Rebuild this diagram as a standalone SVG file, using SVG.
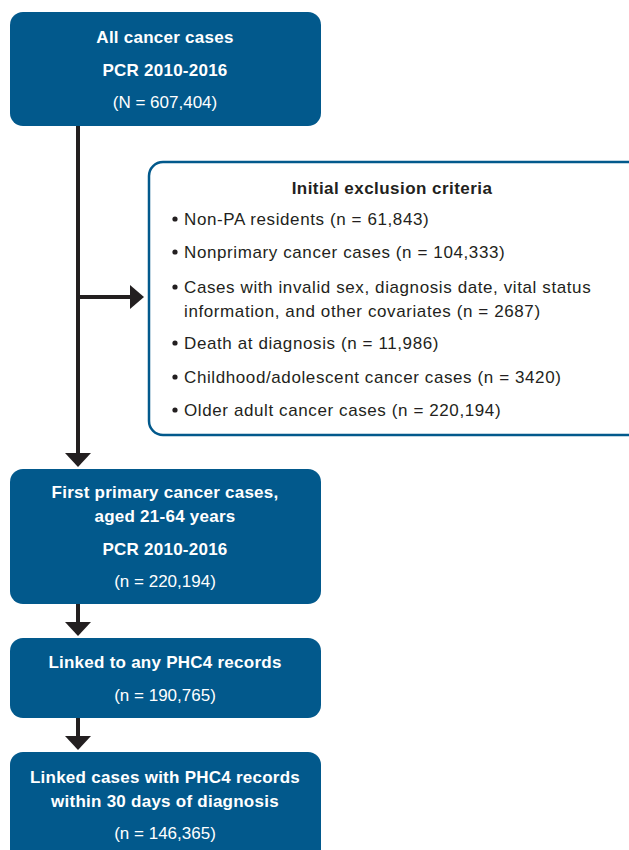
<svg xmlns="http://www.w3.org/2000/svg" width="629" height="850" viewBox="0 0 629 850">
<defs>
<style>
.box{fill:#02598c;}
.bt{font-family:"Liberation Sans",Arial,sans-serif;font-weight:bold;font-size:17px;letter-spacing:0.25px;fill:#fff;text-anchor:middle;}
.nt{font-family:"Liberation Sans",Arial,sans-serif;font-size:17px;fill:#fff;text-anchor:middle;}
.et{font-family:"Liberation Sans",Arial,sans-serif;font-size:17px;letter-spacing:0.6px;fill:#231f20;}
.eh{font-family:"Liberation Sans",Arial,sans-serif;font-weight:bold;font-size:17px;letter-spacing:0.45px;fill:#231f20;text-anchor:middle;}
.ln{stroke:#231f20;stroke-width:4;fill:none;}
.ah{fill:#231f20;}
</style>
</defs>
<rect width="629" height="850" fill="#fff"/>
<g id="connectors">
<line class="ln" x1="78" y1="126" x2="78" y2="455"/>
<polygon class="ah" points="65,453 91,453 78,467"/>
<line class="ln" x1="78" y1="297" x2="132" y2="297"/>
<polygon class="ah" points="130,285 130,309 144,297"/>
<line class="ln" x1="78" y1="604" x2="78" y2="624"/>
<polygon class="ah" points="65,622 91,622 78,636"/>
<line class="ln" x1="78" y1="718" x2="78" y2="738"/>
<polygon class="ah" points="65,736 91,736 78,750"/>
</g>
<g id="node-all">
<rect class="box" x="10" y="12" width="311" height="114" rx="13"/>
<text class="bt" x="165" y="43">All cancer cases</text>
<text class="bt" x="165" y="76">PCR 2010-2016</text>
<text class="nt" x="165" y="108">(N = 607,404)</text>
</g>
<g id="node-exclusion">
<rect x="149" y="162" width="496" height="273" rx="14" fill="#fff" stroke="#02598c" stroke-width="2.5"/>
<text class="eh" x="392" y="194">Initial exclusion criteria</text>
<circle cx="175" cy="219" r="2.6" fill="#231f20"/>
<text class="et" x="184" y="225">Non-PA residents (n = 61,843)</text>
<circle cx="175" cy="252" r="2.6" fill="#231f20"/>
<text class="et" x="184" y="258">Nonprimary cancer cases (n = 104,333)</text>
<circle cx="175" cy="287" r="2.6" fill="#231f20"/>
<text class="et" x="184" y="293">Cases with invalid sex, diagnosis date, vital status</text>
<text class="et" x="184" y="317">information, and other covariates (n = 2687)</text>
<circle cx="175" cy="343" r="2.6" fill="#231f20"/>
<text class="et" x="184" y="349">Death at diagnosis (n = 11,986)</text>
<circle cx="175" cy="377" r="2.6" fill="#231f20"/>
<text class="et" x="184" y="383">Childhood/adolescent cancer cases (n = 3420)</text>
<circle cx="175" cy="410" r="2.6" fill="#231f20"/>
<text class="et" x="184" y="416">Older adult cancer cases (n = 220,194)</text>
</g>
<g id="node-first">
<rect class="box" x="10" y="469" width="311" height="135" rx="13"/>
<text class="bt" x="165" y="498">First primary cancer cases,</text>
<text class="bt" x="165" y="522">aged 21-64 years</text>
<text class="bt" x="165" y="555">PCR 2010-2016</text>
<text class="nt" x="165" y="587">(n = 220,194)</text>
</g>
<g id="node-linked">
<rect class="box" x="10" y="638" width="311" height="80" rx="13"/>
<text class="bt" x="165" y="668">Linked to any PHC4 records</text>
<text class="nt" x="165" y="701">(n = 190,765)</text>
</g>
<g id="node-linked30">
<rect class="box" x="10" y="752" width="311" height="110" rx="13"/>
<text class="bt" x="165" y="783">Linked cases with PHC4 records</text>
<text class="bt" x="165" y="807">within 30 days of diagnosis</text>
<text class="nt" x="165" y="839">(n = 146,365)</text>
</g>
</svg>
